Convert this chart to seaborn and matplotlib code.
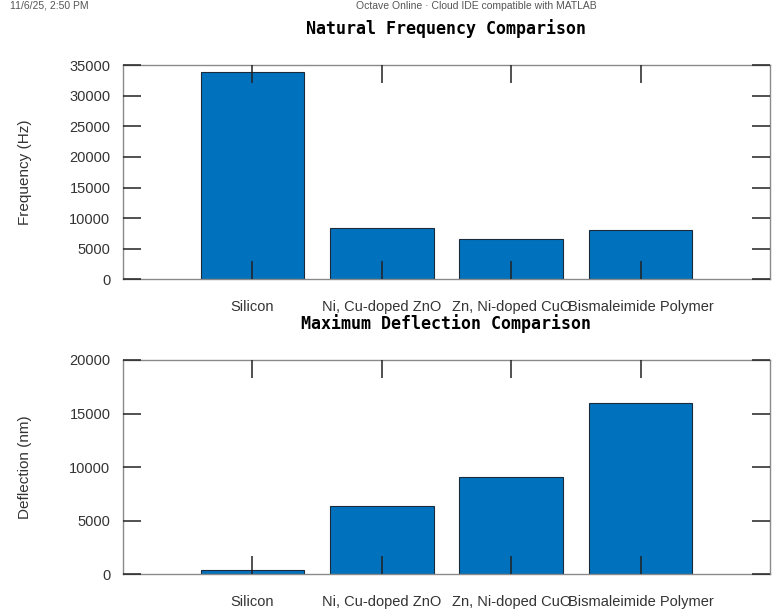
import pandas as pd
import matplotlib
matplotlib.use("Agg")
import matplotlib.pyplot as plt
import seaborn as sns

# Valores
materials = ["Silicon", "Ni, Cu-doped ZnO", "Zn, Ni-doped CuO", "Bismaleimide Polymer"]
freq_hz = [33900, 8450, 6600, 8080]
deflection_nm = [430, 6370, 9110, 16010]
freq_ticks = [0, 5000, 10000, 15000, 20000, 25000, 30000, 35000]
defl_ticks = [0, 5000, 10000, 15000, 20000]

sns.set_style("white")
plt.rcParams['font.family'] = ['Liberation Sans', 'DejaVu Sans']

BAR_COLOR = "#0072BD"
TITLE_FONT = dict(family="DejaVu Sans Mono", size=12, weight="bold", color="black")

df_freq = pd.DataFrame({"material": materials, "valor": freq_hz})
df_defl = pd.DataFrame({"material": materials, "valor": deflection_nm})

fig = plt.figure(figsize=(7.75, 6.14), dpi=100)
ax1 = fig.add_axes([0.1587, 0.5448, 0.8348, 0.3493])
ax2 = fig.add_axes([0.1587, 0.0647, 0.8348, 0.3490])


def style_axis(ax, ticks, ylabel, title):
    ax.set_xlim(-1, 4)
    ax.set_ylim(ticks[0], ticks[-1])
    ax.set_yticks(ticks)
    ax.set_yticklabels([str(t) for t in ticks])
    ax.set_xticks(range(len(materials)))
    ax.set_xticklabels(materials)
    ax.set_xlabel("")
    ax.set_ylabel(ylabel, fontsize=11, color="#333333", labelpad=27)
    ax.set_title(title, fontdict=TITLE_FONT, pad=22.5)
    ax.set_axisbelow(False)
    ax.tick_params(axis="both", direction="in", length=13, width=1.1,
                   color="#222222", labelsize=10.5, labelcolor="#333333",
                   top=True, right=True, bottom=True, left=True)
    ax.tick_params(axis="x", pad=15)
    ax.tick_params(axis="y", pad=9)
    for sp in ax.spines.values():
        sp.set_visible(True)
        sp.set_color("#8a8a8a")
        sp.set_linewidth(1.0)


sns.barplot(data=df_freq, x="material", y="valor", color=BAR_COLOR,
            saturation=1, width=0.8, edgecolor="#1a2a3a", linewidth=0.8,
            ax=ax1, errorbar=None)
style_axis(ax1, freq_ticks, "Frequency (Hz)", "Natural Frequency Comparison")

sns.barplot(data=df_defl, x="material", y="valor", color=BAR_COLOR,
            saturation=1, width=0.8, edgecolor="#1a2a3a", linewidth=0.8,
            ax=ax2, errorbar=None)
style_axis(ax2, defl_ticks, "Deflection (nm)", "Maximum Deflection Comparison")

# Cabeçalho da página impressa
fig.text(0.013, 0.999, "11/6/25, 2:50 PM", fontsize=7.5, color="#555555", va="top")
fig.text(0.46, 0.999, "Octave Online · Cloud IDE compatible with MATLAB",
         fontsize=7.5, color="#555555", va="top")

fig.savefig("out.png", dpi=100)
